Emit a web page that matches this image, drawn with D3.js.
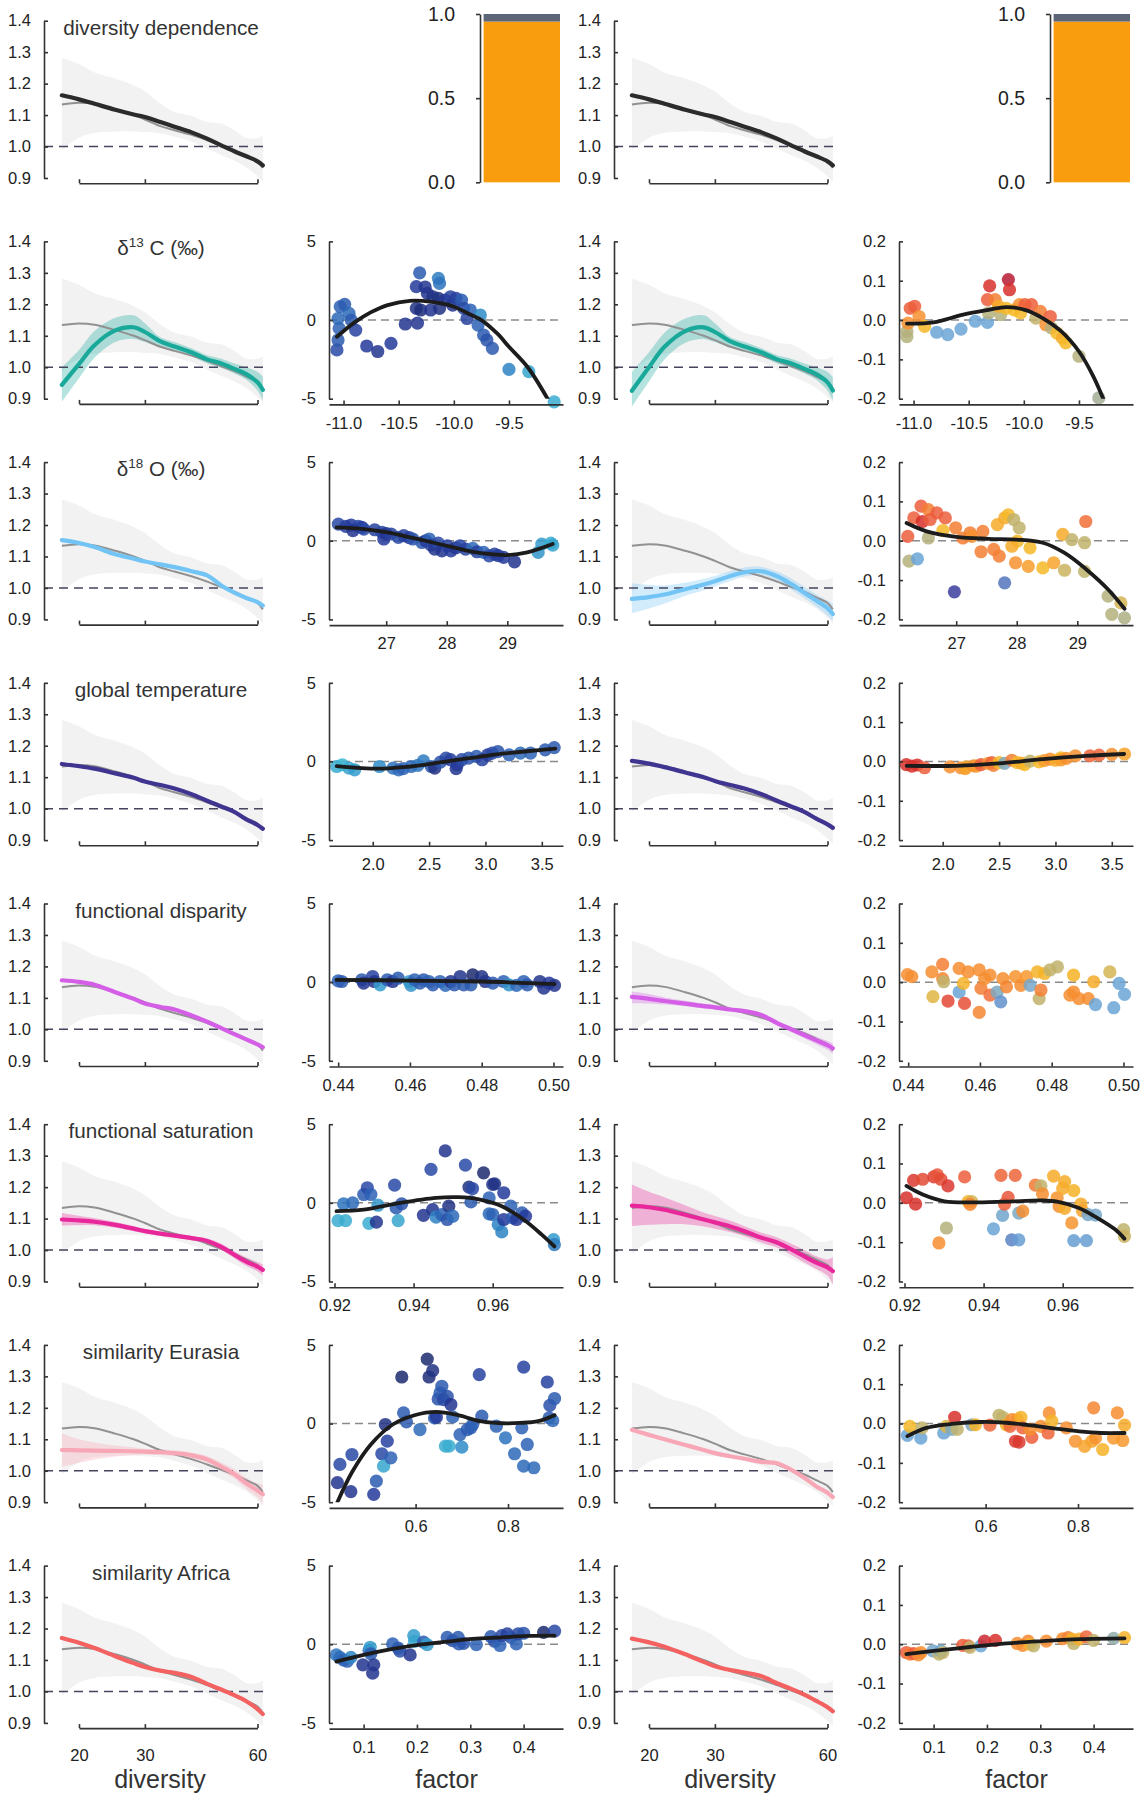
<!DOCTYPE html>
<html>
<head>
<meta charset="utf-8">
<script src="https://cdn.jsdelivr.net/npm/d3@7"></script>
<style>
  body { margin: 0; background: #fff; }
  svg text { font-family: "Liberation Sans", Arial, Helvetica, sans-serif; fill: #222; }
</style>
</head>
<body>
<svg id="fig" width="1140" height="1793"></svg>
<script>
// ---- diversity grid shared by all the left/right line panels
const diversity = [18, 20, 22, 25, 28, 30, 33, 36, 40, 44, 48, 52, 56, 60, 62];
const divTicks = [20, 30, 60];

// grey reference model (same in every line panel)
const refLine = [1.134, 1.139, 1.135, 1.118, 1.1, 1.086, 1.065, 1.052, 1.037, 1.02, 1.003, 0.988, 0.97, 0.952, 0.932];
const refHi = [1.282, 1.262, 1.235, 1.216, 1.194, 1.175, 1.136, 1.11, 1.097, 1.078, 1.073, 1.052, 1.027, 1.027, 1.034];
const refLo = [0.988, 1.028, 1.043, 1.048, 1.048, 1.046, 1.042, 1.031, 1.015, 0.993, 0.972, 0.955, 0.934, 0.905, 0.888];

// colored model lines (left column / right column)
const divDepLine = [1.163, 1.15, 1.136, 1.117, 1.102, 1.094, 1.078, 1.063, 1.045, 1.025, 1.004, 0.985, 0.969, 0.953, 0.94];

const d13cLine = [0.944, 1.01, 1.07, 1.117, 1.127, 1.112, 1.082, 1.066, 1.047, 1.025, 1.012, 0.995, 0.978, 0.952, 0.928];
const d13cLo = [0.89, 0.965, 1.03, 1.08, 1.09, 1.08, 1.063, 1.053, 1.035, 1.012, 0.998, 0.98, 0.96, 0.925, 0.895];
const d13cHi = [1.0, 1.055, 1.115, 1.157, 1.165, 1.14, 1.095, 1.08, 1.06, 1.038, 1.027, 1.012, 1.0, 0.985, 0.97];
const d13cLineR = [0.925, 1.0, 1.065, 1.115, 1.127, 1.112, 1.082, 1.066, 1.047, 1.025, 1.012, 0.995, 0.978, 0.952, 0.926];
const d13cLoR = [0.875, 0.955, 1.025, 1.078, 1.09, 1.08, 1.063, 1.053, 1.035, 1.012, 0.998, 0.98, 0.96, 0.925, 0.893];
const d13cHiR = [0.985, 1.048, 1.11, 1.155, 1.165, 1.14, 1.095, 1.08, 1.06, 1.038, 1.027, 1.012, 1.0, 0.985, 0.968];

const d18oLine = [1.152, 1.143, 1.13, 1.107, 1.093, 1.084, 1.075, 1.066, 1.053, 1.04, 1.008, 0.985, 0.968, 0.955, 0.944];
const d18oLineR = [0.965, 0.971, 0.979, 0.996, 1.011, 1.021, 1.038, 1.05, 1.053, 1.037, 1.012, 0.985, 0.96, 0.936, 0.917];
const d18oLoR = [0.92, 0.935, 0.95, 0.975, 0.993, 1.004, 1.022, 1.036, 1.04, 1.023, 0.995, 0.967, 0.94, 0.912, 0.895];
const d18oHiR = [1.015, 1.01, 1.008, 1.017, 1.029, 1.038, 1.054, 1.065, 1.067, 1.052, 1.03, 1.004, 0.98, 0.96, 0.95];

const tempLine = [1.142, 1.135, 1.127, 1.112, 1.098, 1.086, 1.075, 1.064, 1.046, 1.025, 1.007, 0.99, 0.966, 0.948, 0.936];
const tempLineR = [1.152, 1.143, 1.132, 1.115, 1.1, 1.088, 1.075, 1.064, 1.046, 1.025, 1.007, 0.99, 0.968, 0.95, 0.939];

const dispLine = [1.156, 1.151, 1.142, 1.118, 1.097, 1.082, 1.071, 1.063, 1.044, 1.024, 1.004, 0.985, 0.968, 0.952, 0.943];
const dispLineR = [1.103, 1.097, 1.09, 1.082, 1.074, 1.07, 1.063, 1.058, 1.045, 1.02, 1.0, 0.982, 0.965, 0.95, 0.94];
const dispLoR = [1.083, 1.082, 1.079, 1.073, 1.066, 1.063, 1.057, 1.052, 1.038, 1.012, 0.991, 0.972, 0.953, 0.935, 0.922];
const dispHiR = [1.12, 1.112, 1.101, 1.091, 1.082, 1.077, 1.069, 1.064, 1.052, 1.028, 1.009, 0.992, 0.977, 0.963, 0.956];

const satLine = [1.097, 1.094, 1.09, 1.08, 1.068, 1.06, 1.052, 1.046, 1.038, 1.029, 1.01, 0.985, 0.963, 0.947, 0.937];
const satLo = [1.078, 1.079, 1.079, 1.071, 1.06, 1.053, 1.045, 1.039, 1.031, 1.021, 1.0, 0.974, 0.95, 0.932, 0.92];
const satHi = [1.118, 1.109, 1.101, 1.089, 1.076, 1.067, 1.059, 1.053, 1.045, 1.037, 1.02, 0.996, 0.976, 0.962, 0.954];
const satLineR = [1.141, 1.136, 1.128, 1.112, 1.097, 1.088, 1.075, 1.06, 1.039, 1.024, 1.002, 0.98, 0.96, 0.945, 0.933];
const satLoR = [1.076, 1.08, 1.082, 1.082, 1.075, 1.068, 1.057, 1.044, 1.023, 1.008, 0.984, 0.96, 0.94, 0.918, 0.89];
const satHiR = [1.208, 1.185, 1.168, 1.142, 1.119, 1.108, 1.093, 1.076, 1.055, 1.04, 1.02, 1.0, 0.98, 0.97, 0.978];

const eurLine = [1.066, 1.065, 1.064, 1.063, 1.062, 1.061, 1.059, 1.056, 1.049, 1.036, 1.013, 0.99, 0.96, 0.937, 0.925];
const eurLo = [1.013, 1.025, 1.035, 1.045, 1.05, 1.052, 1.05, 1.047, 1.04, 1.025, 1.0, 0.975, 0.942, 0.915, 0.895];
const eurHi = [1.119, 1.1, 1.09, 1.08, 1.074, 1.07, 1.068, 1.065, 1.058, 1.047, 1.026, 1.005, 0.978, 0.96, 0.955];
const eurLineR = [1.13, 1.114, 1.1, 1.082, 1.066, 1.056, 1.046, 1.038, 1.028, 1.024, 1.003, 0.978, 0.95, 0.93, 0.916];

const afrLine = [1.17, 1.155, 1.138, 1.112, 1.09, 1.078, 1.066, 1.059, 1.046, 1.024, 1.006, 0.988, 0.969, 0.944, 0.928];
const afrLineR = [1.168, 1.156, 1.142, 1.118, 1.094, 1.08, 1.068, 1.06, 1.048, 1.026, 1.008, 0.99, 0.97, 0.95, 0.937];

// ---- row 1: share bars
const barShares = [0.955, 0.045];
const barColors = ["#f99c0e", "#5d6677"];

// ---- factor scatter panels: [factor, effect, colour position]
const d13cPts = [[-11.06,-1.9,0.7],[-11.05,-1.27,0.6],[-11.04,-0.53,0.55],[-11.05,0.1,0.5],[-11.03,0.85,0.55],[-10.99,1.0,0.6],[-10.95,0.42,0.5],[-10.93,0.0,0.6],[-10.89,-0.64,0.75],[-10.79,-1.65,0.8],[-10.69,-2.0,0.85],[-10.57,-1.48,0.8],[-10.44,-0.25,0.85],[-10.33,-0.2,0.85],[-10.34,0.74,0.9],[-10.30,0.64,0.95],[-10.34,2.12,0.8],[-10.31,3.0,0.6],[-10.26,2.1,0.85],[-10.24,1.7,0.85],[-10.19,1.48,0.9],[-10.14,1.38,0.9],[-10.14,2.65,0.4],[-10.13,2.33,0.45],[-10.21,0.64,0.85],[-10.13,0.74,0.9],[-10.08,1.27,0.85],[-10.03,1.48,0.75],[-10.01,0.95,0.85],[-9.98,1.38,0.75],[-9.93,1.27,0.6],[-9.91,0.74,0.7],[-9.88,0.1,0.75],[-9.85,0.64,0.55],[-9.76,0.32,0.3],[-9.78,-0.32,0.55],[-9.73,-0.95,0.6],[-9.70,-1.27,0.65],[-9.65,-1.8,0.6],[-9.50,-3.14,0.35],[-9.32,-3.28,0.15],[-9.09,-5.2,0.1]];
const d13cFit = [[-11.06,-1.06],[-10.9,-0.15],[-10.75,0.5],[-10.6,0.95],[-10.4,1.22],[-10.2,1.15],[-10.0,0.85],[-9.85,0.35],[-9.75,0.0],[-9.6,-0.9],[-9.5,-1.7],[-9.33,-3.0],[-9.15,-5.0]];
const d13cPtsR = [[-11.06,-0.029,0.35],[-11.06,-0.042,0.35],[-11.03,0.03,0.8],[-10.99,0.035,0.8],[-11.05,-0.008,0.65],[-10.95,0.009,0.65],[-10.9,-0.016,0.5],[-10.79,-0.031,0.15],[-10.69,-0.037,0.15],[-10.57,-0.023,0.15],[-10.44,-0.003,0.15],[-10.33,-0.006,0.15],[-10.33,0.052,0.8],[-10.31,0.087,0.92],[-10.26,0.052,0.7],[-10.32,0.018,0.35],[-10.21,0.014,0.35],[-10.23,0.035,0.55],[-10.14,0.103,1.0],[-10.13,0.077,0.92],[-10.16,0.03,0.5],[-10.09,0.026,0.5],[-10.04,0.039,0.65],[-10.03,0.018,0.5],[-9.99,0.039,0.8],[-9.93,0.039,0.8],[-9.89,0.005,0.38],[-9.85,0.022,0.7],[-9.76,0.009,0.8],[-9.8,-0.012,0.65],[-9.75,-0.02,0.35],[-9.7,-0.033,0.5],[-9.65,-0.046,0.55],[-9.62,-0.058,0.5],[-9.5,-0.092,0.35],[-9.32,-0.198,0.3]];
const d13cFitR = [[-11.06,-0.009],[-10.82,-0.006],[-10.55,0.014],[-10.32,0.026],[-10.16,0.033],[-9.99,0.026],[-9.83,0.005],[-9.66,-0.029],[-9.5,-0.08],[-9.37,-0.143],[-9.28,-0.2]];

const d18oPts = [[26.21,1.06,0.7],[26.33,0.91,0.75],[26.42,1.0,0.8],[26.54,0.91,0.7],[26.45,0.64,0.85],[26.6,0.85,0.8],[26.63,0.74,0.7],[26.81,0.7,0.75],[26.93,0.53,0.7],[26.96,0.11,0.8],[27.0,0.45,0.85],[27.08,0.43,0.75],[27.2,0.21,0.7],[27.29,0.32,0.75],[27.38,0.2,0.8],[27.44,0.11,0.65],[27.59,-0.11,0.6],[27.65,0.0,0.8],[27.71,0.11,0.55],[27.74,-0.28,0.75],[27.8,-0.53,0.85],[27.86,-0.15,0.7],[27.92,-0.64,0.85],[28.01,-0.32,0.75],[28.07,-0.64,0.8],[28.15,-0.45,0.85],[28.22,-0.32,0.7],[28.31,-0.53,0.75],[28.43,-0.49,0.5],[28.5,-0.7,0.75],[28.61,-0.74,0.55],[28.7,-0.96,0.7],[28.79,-0.85,0.75],[28.85,-0.95,0.8],[28.94,-1.06,0.8],[29.12,-1.34,0.85],[29.51,-0.74,0.25],[29.57,-0.21,0.2],[29.72,-0.15,0.1],[29.75,-0.28,0.15]];
const d18oFit = [[26.18,0.85],[26.6,0.76],[27.0,0.55],[27.3,0.3],[27.53,0.1],[28.0,-0.32],[28.43,-0.7],[28.73,-0.85],[29.0,-0.91],[29.33,-0.74],[29.75,-0.21]];
const d18oPtsR = [[26.2,0.011,0.8],[26.22,-0.052,0.35],[26.36,-0.046,0.15],[26.3,0.058,0.8],[26.42,0.088,0.8],[26.44,0.049,0.92],[26.54,0.079,0.7],[26.57,0.054,0.8],[26.68,0.071,0.8],[26.82,0.058,0.8],[26.78,0.026,0.5],[26.54,0.007,0.35],[26.99,0.033,0.7],[26.97,-0.13,0.0],[27.11,0.007,0.7],[27.23,0.02,0.7],[27.26,0.011,0.65],[27.44,0.024,0.7],[27.41,-0.028,0.7],[27.62,-0.022,0.7],[27.68,0.041,0.55],[27.71,-0.039,0.7],[27.8,0.058,0.55],[27.86,0.066,0.5],[27.95,0.054,0.38],[28.04,0.033,0.38],[28.01,-0.001,0.5],[27.92,-0.014,0.55],[27.8,-0.107,0.08],[27.98,-0.056,0.65],[28.19,-0.065,0.6],[28.22,-0.018,0.5],[28.43,-0.069,0.5],[28.61,-0.056,0.58],[28.76,0.016,0.55],[28.79,-0.075,0.4],[28.91,0.003,0.38],[29.12,-0.005,0.38],[29.12,-0.078,0.38],[29.14,0.049,0.75],[29.51,-0.141,0.35],[29.57,-0.187,0.35],[29.72,-0.158,0.42],[29.78,-0.196,0.33]];
const d18oFitR = [[26.18,0.045],[26.51,0.024],[27.0,0.01],[27.53,0.005],[28.0,0.003],[28.43,-0.005],[28.79,-0.031],[29.15,-0.073],[29.51,-0.124],[29.78,-0.173]];

const tempPts = [[1.68,-0.32,0.1],[1.73,-0.21,0.05],[1.79,-0.42,0.15],[1.84,-0.53,0.2],[2.06,-0.32,0.3],[2.18,-0.42,0.45],[2.23,-0.53,0.5],[2.27,-0.46,0.55],[2.34,-0.32,0.5],[2.4,-0.25,0.45],[2.45,0.04,0.4],[2.52,-0.32,0.6],[2.55,-0.42,0.9],[2.6,-0.04,0.65],[2.65,0.21,0.7],[2.69,0.11,0.75],[2.74,-0.46,0.85],[2.75,-0.21,0.8],[2.79,0.11,0.7],[2.85,0.21,0.65],[2.92,0.32,0.6],[2.97,0.11,0.75],[3.02,0.42,0.8],[3.06,0.53,0.7],[3.11,0.63,0.65],[3.21,0.42,0.55],[3.31,0.53,0.5],[3.4,0.53,0.55],[3.53,0.74,0.6],[3.61,0.88,0.6]];
const tempFit = [[1.68,-0.3],[1.9,-0.42],[2.1,-0.45],[2.3,-0.35],[2.5,-0.17],[2.7,0.05],[2.9,0.25],[3.1,0.45],[3.3,0.6],[3.5,0.74],[3.62,0.82]];
const tempPtsR = [[1.677,-0.008,0.92],[1.726,-0.012,0.92],[1.774,-0.009,0.92],[1.839,-0.016,0.8],[2.065,-0.014,0.65],[2.161,-0.016,0.65],[2.2,-0.018,0.6],[2.21,-0.014,0.58],[2.274,-0.011,0.65],[2.3,-0.012,0.62],[2.339,-0.008,0.8],[2.403,-0.005,0.65],[2.435,-0.003,0.8],[2.45,-0.01,0.7],[2.5,-0.003,0.5],[2.548,-0.005,0.2],[2.613,0.003,0.7],[2.661,-0.003,0.5],[2.7,-0.004,0.55],[2.726,-0.008,0.5],[2.774,0.001,0.38],[2.855,-0.001,0.5],[2.9,0.002,0.6],[2.952,0.006,0.65],[3.0,0.003,0.55],[3.048,0.009,0.5],[3.05,0.004,0.6],[3.097,0.008,0.65],[3.177,0.014,0.65],[3.306,0.014,0.78],[3.387,0.016,0.78],[3.5,0.018,0.65],[3.613,0.019,0.58]];
const tempFitR = [[1.68,-0.011],[2.12,-0.011],[2.5,-0.005],[2.89,0.006],[3.27,0.014],[3.61,0.019]];

const dispPts = [[0.44,0.08,0.55],[0.441,0.04,0.6],[0.4466,0.15,0.6],[0.4471,-0.06,0.85],[0.4496,0.36,0.75],[0.4501,0.04,0.85],[0.4517,-0.17,0.2],[0.4537,0.15,0.6],[0.4552,0.04,0.85],[0.4567,0.25,0.6],[0.4598,0.04,0.2],[0.4603,-0.21,0.25],[0.4613,0.15,0.55],[0.4628,-0.06,0.6],[0.4638,0.15,0.6],[0.4653,0.04,0.55],[0.4664,-0.17,0.6],[0.4684,0.04,0.55],[0.4699,-0.21,0.5],[0.4714,0.04,0.85],[0.4724,-0.17,0.6],[0.474,0.36,0.85],[0.475,-0.17,0.6],[0.477,-0.17,0.6],[0.4775,0.46,1.0],[0.48,0.36,0.9],[0.481,0.04,0.85],[0.4831,-0.06,0.6],[0.4861,0.04,0.55],[0.4876,-0.17,0.25],[0.4897,-0.21,0.5],[0.4917,0.04,0.55],[0.4927,-0.17,0.6],[0.4962,0.04,0.85],[0.4973,-0.38,0.85],[0.4988,-0.06,0.8],[0.5003,-0.21,0.85]];
const dispFit = [[0.4395,0.15],[0.46,0.1],[0.48,0.04],[0.5003,-0.13]];
const dispPtsR = [[0.4398,0.019,0.66],[0.441,0.014,0.66],[0.4466,0.026,0.66],[0.4469,-0.037,0.45],[0.4496,0.045,0.7],[0.4496,0.009,0.68],[0.4499,0.001,0.38],[0.4511,-0.048,0.86],[0.4542,0.035,0.66],[0.4542,-0.025,0.15],[0.4554,-0.003,0.52],[0.4557,-0.054,0.84],[0.4567,0.026,0.66],[0.4598,0.031,0.66],[0.4603,-0.016,0.7],[0.4613,0.009,0.66],[0.4628,0.018,0.66],[0.4628,-0.033,0.75],[0.4598,-0.077,0.68],[0.4648,-0.025,0.2],[0.4658,-0.05,0.12],[0.4664,0.009,0.66],[0.4674,-0.012,0.68],[0.4699,0.014,0.64],[0.4714,-0.008,0.66],[0.473,0.014,0.62],[0.474,-0.008,0.18],[0.476,0.026,0.52],[0.4765,-0.042,0.38],[0.477,-0.02,0.7],[0.478,0.022,0.52],[0.4795,0.031,0.38],[0.4816,0.039,0.38],[0.4861,0.018,0.52],[0.4851,-0.033,0.66],[0.4861,-0.025,0.66],[0.4876,-0.042,0.66],[0.4902,-0.042,0.66],[0.4917,0.001,0.55],[0.4922,-0.057,0.15],[0.4962,0.026,0.42],[0.4973,-0.065,0.15],[0.4988,-0.003,0.15],[0.5003,-0.031,0.15]];

const satPts = [[0.9209,-1.13,0.1],[0.9228,-1.13,0.1],[0.9223,-0.06,0.45],[0.9246,0.0,0.5],[0.9274,0.53,0.6],[0.9283,0.96,0.7],[0.9292,0.53,0.55],[0.9287,-1.3,0.1],[0.9306,-1.23,0.85],[0.931,-0.15,0.25],[0.9352,1.13,0.7],[0.9361,-1.13,0.15],[0.9356,-0.32,0.6],[0.937,-0.06,0.65],[0.9425,-0.79,0.85],[0.9444,2.13,0.7],[0.9448,-0.43,0.85],[0.9457,-0.91,0.35],[0.9471,-0.74,0.55],[0.948,3.3,0.85],[0.9489,-0.21,0.9],[0.9485,-1.06,0.65],[0.9499,-0.85,0.5],[0.9531,2.4,0.7],[0.954,1.0,0.9],[0.9549,0.91,0.7],[0.9545,0.06,0.6],[0.9577,1.91,1.0],[0.9591,0.32,0.55],[0.96,1.17,0.85],[0.9605,1.21,0.9],[0.9591,-0.7,0.5],[0.96,-0.74,0.55],[0.9614,-1.38,0.35],[0.9623,-1.85,0.35],[0.9628,0.64,0.8],[0.9628,-1.06,0.8],[0.9646,-0.21,0.55],[0.965,-0.96,0.6],[0.966,-1.06,0.8],[0.9674,-0.64,0.6],[0.9683,-0.85,0.8],[0.9754,-2.34,0.2],[0.9756,-2.66,0.4]];
const satFit = [[0.9205,-0.53],[0.9274,-0.43],[0.9366,0.0],[0.9457,0.32],[0.9513,0.36],[0.9568,0.21],[0.9623,-0.21],[0.9678,-1.06],[0.9724,-2.02],[0.9756,-2.77]];
const satPtsR = [[0.9205,0.013,0.92],[0.9228,-0.003,0.92],[0.9223,0.057,0.9],[0.9246,0.06,0.85],[0.9274,0.066,0.88],[0.9283,0.071,0.82],[0.9292,0.06,0.85],[0.931,0.043,0.9],[0.9287,-0.102,0.66],[0.9306,-0.064,0.35],[0.9352,0.066,0.8],[0.9361,0.003,0.52],[0.937,0.003,0.42],[0.9366,-0.004,0.68],[0.9425,-0.066,0.15],[0.9444,0.07,0.78],[0.9448,-0.032,0.17],[0.9462,0.014,0.82],[0.9453,-0.003,0.8],[0.9471,-0.094,0.1],[0.948,0.07,0.78],[0.9489,-0.094,0.14],[0.9489,-0.026,0.2],[0.9499,-0.021,0.66],[0.9531,0.045,0.72],[0.9545,0.043,0.38],[0.9549,0.023,0.66],[0.9577,0.068,0.55],[0.9586,0.013,0.64],[0.9591,-0.009,0.66],[0.96,0.037,0.55],[0.9605,0.054,0.55],[0.9605,-0.014,0.55],[0.9628,0.031,0.52],[0.9623,-0.051,0.64],[0.9628,-0.096,0.14],[0.9646,-0.003,0.55],[0.965,-0.02,0.58],[0.966,-0.096,0.14],[0.9664,-0.03,0.18],[0.9683,-0.031,0.18],[0.9754,-0.068,0.38],[0.9756,-0.085,0.4]];
const satFitR = [[0.9205,0.043],[0.9246,0.021],[0.9301,0.004],[0.9366,0.001],[0.9457,0.003],[0.9549,0.006],[0.9586,0.003],[0.9641,-0.013],[0.9687,-0.038],[0.9733,-0.068],[0.9756,-0.091]];

const eurPts = [[0.4307,-3.76,0.85],[0.4362,-2.6,0.7],[0.4598,-4.33,0.85],[0.4622,-1.97,0.7],[0.5094,-4.5,0.8],[0.515,-3.66,0.6],[0.5268,-1.92,0.7],[0.5307,-2.71,0.15],[0.5346,-0.06,0.9],[0.5386,-1.12,0.75],[0.5465,-2.18,0.55],[0.5701,2.96,1.0],[0.574,0.68,0.6],[0.5803,0.11,0.6],[0.6094,-0.38,0.5],[0.6252,4.1,1.0],[0.6291,2.96,0.95],[0.637,3.36,0.9],[0.6409,0.36,0.55],[0.6449,0.4,0.8],[0.6488,1.56,0.65],[0.6528,1.95,0.6],[0.6567,2.37,0.6],[0.6606,1.52,0.7],[0.6646,-1.44,0.1],[0.6724,-1.44,0.1],[0.6685,1.73,0.65],[0.6764,1.21,0.85],[0.6803,0.42,0.55],[0.6961,-0.7,0.55],[0.7,-1.5,0.3],[0.7118,-0.38,0.6],[0.7197,-0.27,0.6],[0.7236,-0.06,0.55],[0.7378,3.11,0.75],[0.7433,0.47,0.6],[0.7748,-0.17,0.55],[0.7945,-0.91,0.45],[0.8142,-1.92,0.5],[0.8299,-0.27,0.55],[0.8339,-2.71,0.5],[0.8339,3.59,0.75],[0.8417,-1.33,0.55],[0.8559,-2.81,0.5],[0.885,2.64,0.75],[0.8906,1.16,0.65],[0.9008,1.59,0.6],[0.889,0.36,0.6],[0.8969,0.19,0.5]];
const eurFit = [[0.4307,-5.0],[0.4638,-3.02],[0.5031,-1.33],[0.5504,-0.06],[0.5976,0.53],[0.6449,0.74],[0.6921,0.53],[0.7394,0.15],[0.7866,0.02],[0.826,0.04],[0.8654,0.15],[0.9008,0.53]];
const eurPtsR = [[0.4307,-0.03,0.15],[0.4362,-0.007,0.5],[0.4598,-0.037,0.15],[0.4622,-0.011,0.38],[0.5094,-0.024,0.15],[0.515,-0.007,0.45],[0.5268,-0.015,0.2],[0.5331,0.016,0.92],[0.5386,-0.015,0.38],[0.5701,-0.003,0.2],[0.5779,-0.003,0.52],[0.6094,-0.004,0.78],[0.6291,0.021,0.38],[0.637,0.016,0.38],[0.6449,-0.003,0.52],[0.6528,-0.007,0.78],[0.6567,0.01,0.66],[0.6646,-0.045,0.9],[0.6724,-0.047,0.9],[0.6685,0.01,0.66],[0.6764,0.016,0.52],[0.6803,-0.011,0.78],[0.7,-0.035,0.8],[0.6961,-0.015,0.66],[0.7197,-0.007,0.66],[0.7354,-0.024,0.78],[0.7378,0.027,0.66],[0.7433,0.006,0.52],[0.7748,-0.011,0.66],[0.7945,-0.045,0.64],[0.8142,-0.058,0.58],[0.8299,-0.045,0.58],[0.8339,0.04,0.68],[0.8378,-0.037,0.64],[0.8535,-0.066,0.52],[0.877,-0.037,0.62],[0.885,0.027,0.66],[0.8969,-0.043,0.62],[0.9008,-0.004,0.55]];
const eurFitR = [[0.4307,-0.032],[0.4717,-0.011],[0.5268,-0.001],[0.5898,0.004],[0.6449,0.002],[0.6921,-0.004],[0.7394,-0.011],[0.8024,-0.02],[0.8496,-0.024],[0.9008,-0.024]];

const afrPts = [[0.0489,-0.68,0.45],[0.0557,-0.83,0.5],[0.0625,-1.0,0.55],[0.0693,-1.08,0.55],[0.0761,-0.83,0.35],[0.0986,-1.31,0.85],[0.1102,-0.4,0.5],[0.1123,-0.19,0.2],[0.1136,-0.61,0.6],[0.1191,-1.31,0.85],[0.117,-1.84,0.85],[0.1545,0.02,0.55],[0.1648,-0.25,0.6],[0.1682,-0.44,0.65],[0.1873,-0.68,0.85],[0.1941,0.55,0.2],[0.1955,0.19,0.15],[0.2123,0.13,0.6],[0.2193,-0.02,0.2],[0.2568,0.44,0.6],[0.267,0.23,0.65],[0.2773,0.44,0.6],[0.2786,0.02,0.6],[0.2875,0.06,0.65],[0.3114,-0.02,0.55],[0.3386,0.49,0.6],[0.3455,0.19,0.65],[0.3557,-0.08,0.55],[0.3591,0.55,0.7],[0.3693,0.66,0.75],[0.3761,0.44,0.65],[0.3864,0.02,0.55],[0.3898,0.66,0.7],[0.4,0.7,0.65],[0.4375,0.76,1.0],[0.458,0.83,0.7]];
const afrFit = [[0.0489,-1.1],[0.1,-0.68],[0.1545,-0.3],[0.2023,-0.04],[0.2568,0.17],[0.3045,0.34],[0.3591,0.44],[0.4068,0.53],[0.458,0.55]];
const afrPtsR = [[0.0489,-0.021,0.8],[0.0557,-0.025,0.7],[0.0625,-0.024,0.8],[0.0714,-0.027,0.66],[0.0761,-0.021,0.66],[0.0986,-0.017,0.18],[0.1102,-0.025,0.38],[0.1136,-0.017,0.15],[0.117,-0.021,0.38],[0.1545,-0.003,0.8],[0.1648,-0.004,0.8],[0.1682,-0.008,0.38],[0.1886,-0.004,0.15],[0.1955,0.008,0.95],[0.2159,0.01,0.92],[0.2568,0.002,0.66],[0.267,-0.003,0.66],[0.2773,0.008,0.68],[0.2807,0.0,0.52],[0.2875,-0.004,0.38],[0.3114,0.008,0.66],[0.342,0.014,0.66],[0.3523,0.017,0.7],[0.3591,0.013,0.52],[0.3625,0.002,0.38],[0.3727,0.013,0.55],[0.3864,0.019,0.78],[0.4,0.01,0.38],[0.4375,0.015,0.25],[0.458,0.017,0.52]];
const afrFitR = [[0.0489,-0.025],[0.1,-0.017],[0.1682,-0.007],[0.2364,0.002],[0.3045,0.008],[0.3727,0.013],[0.458,0.015]];

// per-row labels, colours and factor axes
const titles = ["diversity dependence", "δ13C", "δ18O", "global temperature", "functional disparity", "functional saturation", "similarity Eurasia", "similarity Africa"];
const lineColors = ["#2b2b2b", "#19a99a", "#72c4f5", "#3f3590", "#d45fe6", "#e8279a", "#f8a7b6", "#f36161"];
const factorDomains = [null, [-11.132, -9.01], [26.055, 29.92], [1.612, 3.688], [0.43744, 0.50266], [0.91861, 0.97778], [0.41255, 0.91905], [0.03512, 0.47387]];
const factorTicks = [null, [-11, -10.5, -10, -9.5], [27, 28, 29], [2, 2.5, 3, 3.5], [0.44, 0.46, 0.48, 0.5], [0.92, 0.94, 0.96], [0.6, 0.8], [0.1, 0.2, 0.3, 0.4]];
const factorFormats = [null, ".1f", "d", ".1f", ".2f", ".2f", ".1f", ".1f"];

const leftModels = [
  {line: divDepLine}, {line: d13cLine, lo: d13cLo, hi: d13cHi}, {line: d18oLine}, {line: tempLine},
  {line: dispLine}, {line: satLine, lo: satLo, hi: satHi}, {line: eurLine, lo: eurLo, hi: eurHi}, {line: afrLine}
];
const rightModels = [
  {line: divDepLine}, {line: d13cLineR, lo: d13cLoR, hi: d13cHiR}, {line: d18oLineR, lo: d18oLoR, hi: d18oHiR}, {line: tempLineR},
  {line: dispLineR, lo: dispLoR, hi: dispHiR}, {line: satLineR, lo: satLoR, hi: satHiR}, {line: eurLineR}, {line: afrLineR}
];
const leftScatter = [null, [d13cPts, d13cFit], [d18oPts, d18oFit], [tempPts, tempFit], [dispPts, dispFit], [satPts, satFit], [eurPts, eurFit], [afrPts, afrFit]];
const rightScatter = [null, [d13cPtsR, d13cFitR], [d18oPtsR, d18oFitR], [tempPtsR, tempFitR], [dispPtsR, null], [satPtsR, satFitR], [eurPtsR, eurFitR], [afrPtsR, afrFitR]];

// colour scales for the dots
const blueDots = d3.scaleLinear().domain([0, 0.3, 0.55, 0.8, 1])
  .range(["#3ebdd4", "#2e8cc8", "#2d62b5", "#25399a", "#1c2a6e"]);
const warmDots = d3.scaleLinear().domain([0, 0.15, 0.35, 0.5, 0.65, 0.8, 0.92, 1])
  .range(["#3b3d9e", "#6aa5d6", "#b4b07c", "#f6b826", "#f7902f", "#ec5e3b", "#d7302c", "#b81b34"]);

const fmt = d3.formatLocale({decimal: ".", thousands: ",", grouping: [3], currency: ["", ""], minus: "-"}).format;
const svg = d3.select("#fig");
const TICK_FONT = 16.5;
let clipId = 0;

function rowTop(r) { return 20.7 + r * 220.7; }

function styleAxis(g, size) {
  g.attr("font-family", null).attr("font-size", null);
  g.select(".domain").attr("stroke", "#333").attr("stroke-width", 1.6);
  g.selectAll(".tick line").attr("stroke", "#333").attr("stroke-width", 1.6);
  g.selectAll(".tick text").attr("font-size", size).attr("fill", "#222");
}

function drawDiversityPanel(x0, r, model, color, withLabels) {
  const top = rowTop(r);
  const x = d3.scaleLog().domain([20, 60]).range([x0 + 35, x0 + 213.5]);
  const y = d3.scaleLinear().domain([0.9, 1.4]).range([top + 157.3, top]);
  const g = svg.append("g");

  const band = (lo, hi) => d3.area().curve(d3.curveCatmullRom)
    .x((d, i) => x(diversity[i])).y0((d, i) => y(lo[i])).y1((d, i) => y(hi[i]));
  const curve = vals => d3.line().curve(d3.curveCatmullRom)
    .x((d, i) => x(diversity[i])).y((d, i) => y(vals[i]));

  g.append("path").datum(diversity).attr("d", band(refLo, refHi)).attr("fill", "#f2f2f2");
  if (model.lo) {
    g.append("path").datum(diversity).attr("d", band(model.lo, model.hi))
      .attr("fill", color).attr("fill-opacity", 0.32);
  }
  g.append("line").attr("x1", x0).attr("x2", x0 + 224).attr("y1", y(1)).attr("y2", y(1))
    .attr("stroke", "#44445e").attr("stroke-width", 1.5).attr("stroke-dasharray", "9,6");
  g.append("path").datum(diversity).attr("d", curve(refLine))
    .attr("fill", "none").attr("stroke", "#919191").attr("stroke-width", 2);
  g.append("path").datum(diversity).attr("d", curve(model.line))
    .attr("fill", "none").attr("stroke", color).attr("stroke-width", 4.2).attr("stroke-linecap", "round");

  g.append("g").attr("transform", `translate(${x0},0)`)
    .call(d3.axisLeft(y).tickValues([0.9, 1.0, 1.1, 1.2, 1.3, 1.4]).tickSize(-4).tickSizeOuter(0)
      .tickPadding(13).tickFormat(fmt(".1f")))
    .call(g => styleAxis(g, TICK_FONT));
  g.append("g").attr("transform", `translate(0,${top + 162.5})`)
    .call(d3.axisBottom(x).tickValues(divTicks).tickSize(-4).tickSizeOuter(0)
      .tickPadding(21).tickFormat(withLabels ? fmt("d") : ""))
    .call(g => styleAxis(g, TICK_FONT));
}

function drawFactorPanel(x0, r, pts, fit, isRight) {
  const top = rowTop(r);
  const x = d3.scaleLinear().domain(factorDomains[r]).range([x0, x0 + 234]);
  const yDom = isRight ? [-0.2, 0.2] : [-5, 5];
  const y = d3.scaleLinear().domain(yDom).range([top + 157.3, top]);
  const colorOf = isRight ? warmDots : blueDots;
  const g = svg.append("g");

  g.append("line").attr("x1", x0).attr("x2", x0 + 234).attr("y1", y(0)).attr("y2", y(0))
    .attr("stroke", "#8a8a8a").attr("stroke-width", 1.5).attr("stroke-dasharray", "8,5");

  g.selectAll("circle").data(pts).join("circle")
    .attr("cx", d => x(d[0])).attr("cy", d => y(d[1])).attr("r", 6.6)
    .attr("fill", d => colorOf(d[2])).attr("fill-opacity", 0.85);

  if (fit) {
    const id = "clip" + (clipId++);
    svg.append("clipPath").attr("id", id).append("rect")
      .attr("x", x0).attr("y", top).attr("width", 234).attr("height", 157.3);
    g.append("path").datum(fit).attr("clip-path", `url(#${id})`)
      .attr("d", d3.line().curve(d3.curveCatmullRom).x(d => x(d[0])).y(d => y(d[1])))
      .attr("fill", "none").attr("stroke", "#1c1c1c").attr("stroke-width", 3.8).attr("stroke-linecap", "round");
  }

  g.append("g").attr("transform", `translate(${x0},0)`)
    .call(d3.axisLeft(y).tickValues(isRight ? [-0.2, -0.1, 0, 0.1, 0.2] : [-5, 0, 5])
      .tickSize(-4).tickSizeOuter(0).tickPadding(13).tickFormat(fmt(isRight ? ".1f" : "d")))
    .call(g => styleAxis(g, TICK_FONT));
  g.append("g").attr("transform", `translate(0,${top + 163})`)
    .call(d3.axisBottom(x).tickValues(factorTicks[r]).tickSize(-4).tickSizeOuter(0)
      .tickPadding(12.4).tickFormat(fmt(factorFormats[r])))
    .call(g => styleAxis(g, TICK_FONT));
}

function drawSharePanel(x0) {
  const y = d3.scaleLinear().domain([0, 1]).range([182.3, 14]);
  const xb = d3.scaleBand().domain(["share"]).range([x0 + 3.6, x0 + 80]);
  const g = svg.append("g");
  let acc = 0;
  const stacked = barShares.map((v, i) => { const s = {y0: acc, y1: acc + v, color: barColors[i]}; acc += v; return s; });
  g.selectAll("rect").data(stacked).join("rect")
    .attr("x", xb("share")).attr("width", xb.bandwidth())
    .attr("y", d => y(d.y1)).attr("height", d => y(d.y0) - y(d.y1))
    .attr("fill", d => d.color);
  g.append("g").attr("transform", `translate(${x0},0)`)
    .call(d3.axisLeft(y).tickValues([0, 0.5, 1]).tickSize(4).tickSizeOuter(0)
      .tickPadding(21).tickFormat(fmt(".1f")))
    .call(g => styleAxis(g, 19.5));
}

function drawTitle(r, text) {
  const t = svg.append("text").attr("x", 161).attr("y", rowTop(r) + 14)
    .attr("text-anchor", "middle").attr("font-size", 20.7).style("fill", "#333");
  const m = text.match(/^δ(\d+)(\w)$/);
  if (m) {
    t.append("tspan").text("δ");
    t.append("tspan").attr("font-size", 13.5).attr("dy", -8).text(m[1]);
    t.append("tspan").attr("dy", 8).text(" " + m[2] + " (‰)");
  } else {
    t.text(text);
  }
}

// ---- build the grid
const lineCols = [44, 614];
const factorCols = [329, 899];

for (let r = 0; r < 8; r++) {
  const last = r === 7;
  drawDiversityPanel(lineCols[0], r, leftModels[r], lineColors[r], last);
  drawDiversityPanel(lineCols[1], r, rightModels[r], lineColors[r], last);
  drawTitle(r, titles[r]);
  if (r === 0) {
    drawSharePanel(480);
    drawSharePanel(1050);
  } else {
    drawFactorPanel(factorCols[0], r, leftScatter[r][0], leftScatter[r][1], false);
    drawFactorPanel(factorCols[1], r, rightScatter[r][0], rightScatter[r][1], true);
  }
}

// bottom axis titles
const axisTitles = [["diversity", 160], ["factor", 446.5], ["diversity", 730], ["factor", 1016.5]];
svg.selectAll("text.axis-title").data(axisTitles).join("text")
  .attr("class", "axis-title")
  .attr("x", d => d[1]).attr("y", 1788)
  .attr("text-anchor", "middle").attr("font-size", 25)
  .style("fill", "#333")
  .text(d => d[0]);
</script>
</body>
</html>
